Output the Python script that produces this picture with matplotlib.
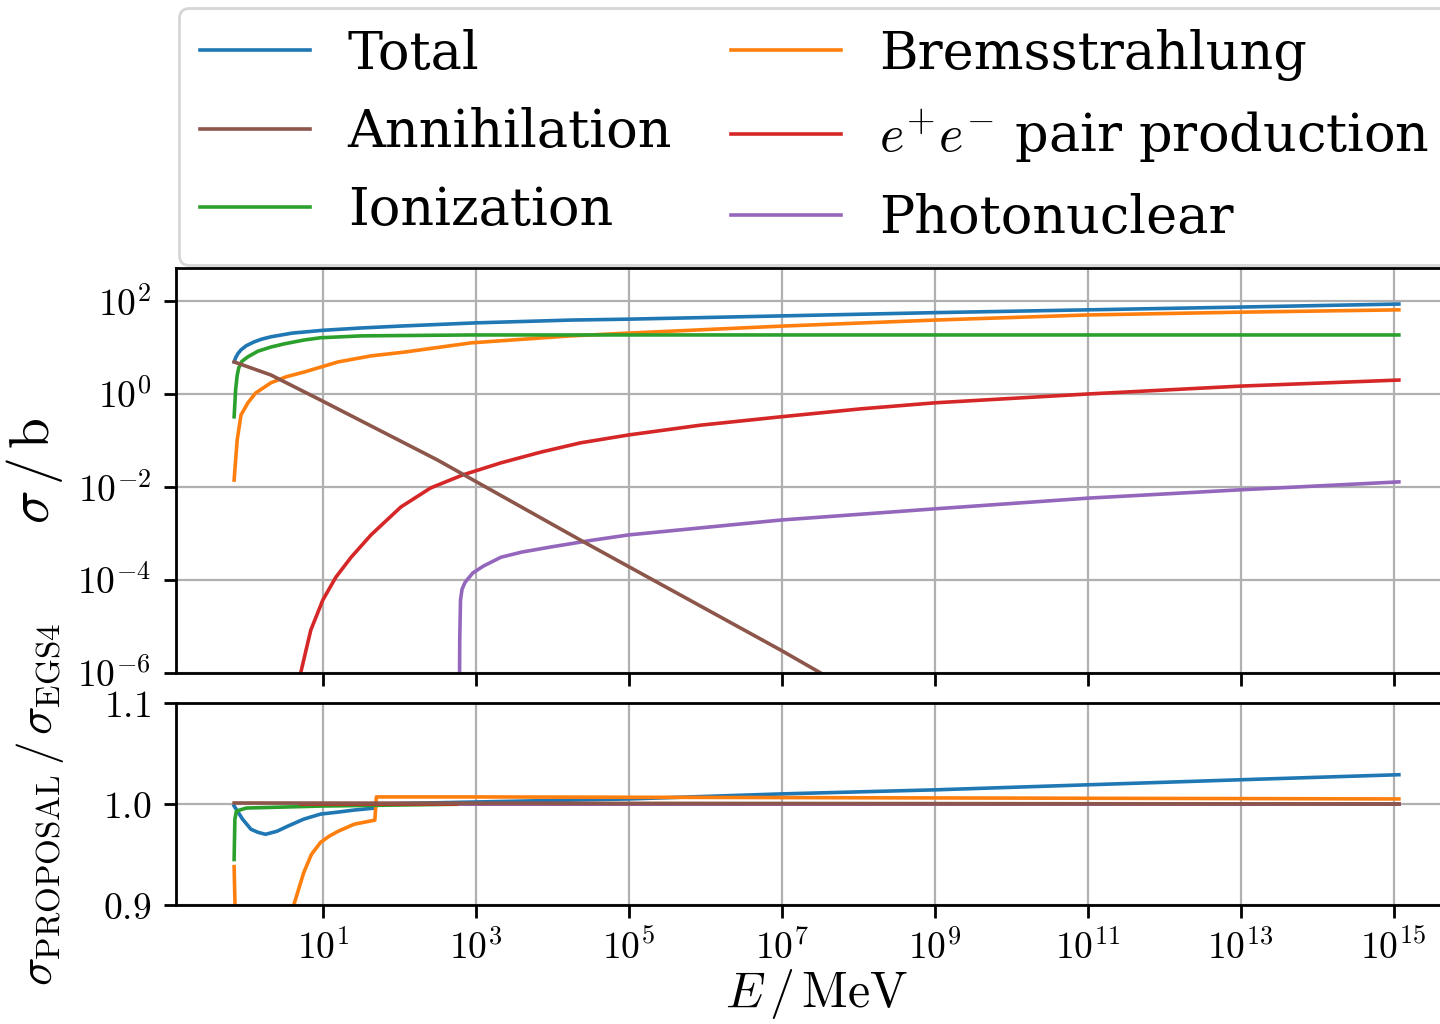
#import Libraries
import numpy as np
import matplotlib
matplotlib.use("Agg")
import matplotlib.pyplot as plt
from matplotlib.ticker import FixedLocator, FixedFormatter, NullLocator
##################################################

'''
Cross sections of the electron interactions (PROPOSAL) and the
ratio PROPOSAL / EGS4 for each process.
'''


#Data, energies and cross sections as log10 values (E in MeV, sigma in barn)
logE_total = [-0.16, -0.14, -0.11, -0.07, 0.00, 0.10, 0.20, 0.32, 0.60, 1.00, 1.50, 2.00, 3.00, 4.24, 5.00,
              7.00, 9.00, 11.00, 13.00, 15.07]
logS_total = [0.69, 0.78, 0.87, 0.95, 1.04, 1.12, 1.18, 1.23, 1.31, 1.37, 1.42, 1.46, 1.53, 1.59, 1.61,
              1.68, 1.75, 1.81, 1.87, 1.935]

logE_brems = [-0.16, -0.15, -0.12, -0.07, 0.02, 0.12, 0.32, 0.52, 0.75, 1.20, 1.63, 2.06, 2.94, 4.24, 5.00,
              7.00, 9.00, 11.00, 13.00, 15.07]
logS_brems = [-1.85, -1.63, -0.99, -0.45, -0.19, 0.02, 0.24, 0.37, 0.47, 0.69, 0.82, 0.90, 1.10, 1.25, 1.31,
              1.46, 1.59, 1.70, 1.76, 1.81]

logE_ioniz = [-0.16, -0.14, -0.12, -0.10, -0.06, 0.02, 0.15, 0.32, 0.50, 0.75, 0.97, 1.50, 2.93, 15.07]
logS_ioniz = [-0.49, 0.10, 0.40, 0.56, 0.70, 0.80, 0.92, 1.01, 1.08, 1.16, 1.21, 1.25, 1.27, 1.27]

logE_pair = [0.68, 0.71, 0.78, 0.843, 1.00, 1.17, 1.37, 1.63, 2.02, 2.41, 2.83, 3.33, 3.85, 4.37, 5.00,
             5.94, 6.99, 8.03, 9.00, 11.00, 13.00, 15.07]
logS_pair = [-7.00, -6.00, -5.51, -5.075, -4.43, -3.94, -3.51, -3.03, -2.43, -2.02, -1.74, -1.48, -1.25, -1.05, -0.88,
             -0.67, -0.49, -0.32, -0.19, 0.00, 0.17, 0.30]

logE_photo = [2.785, 2.79, 2.80, 2.82, 2.86, 2.96, 3.10, 3.33, 3.60, 3.98, 4.50, 5.00, 6.99, 9.00, 11.00, 13.00, 15.07]
logS_photo = [-7.00, -5.29, -4.43, -4.20, -4.05, -3.85, -3.70, -3.51, -3.40, -3.29, -3.15, -3.03, -2.71, -2.47,
              -2.24, -2.06, -1.89]

logE_annih = [-0.16, 0.32, 0.97, 2.50, 4.41, 6.99, 7.51, 8.00]
logS_annih = [0.69, 0.41, -0.13, -1.42, -3.18, -5.51, -6.00, -6.45]

#Ratios PROPOSAL / EGS4
logE_r_total = [-0.16, -0.10, -0.05, 0.06, 0.15, 0.25, 0.40, 0.54, 0.75, 0.97, 1.20, 1.41, 1.68, 1.71, 3.00,
                5.00, 7.00, 9.00, 11.00, 13.00, 15.07]
ratio_total = [0.998, 0.991, 0.985, 0.975, 0.972, 0.970, 0.973, 0.978, 0.985, 0.990, 0.992, 0.994, 0.996, 1.000, 1.002,
               1.005, 1.010, 1.014, 1.019, 1.024, 1.029]

logE_r_brems = [-0.16, -0.15, -0.14, 0.20, 0.50, 0.62, 0.75, 0.85, 0.97, 1.08, 1.20, 1.41, 1.68, 1.70, 3.00, 15.07]
ratio_brems = [0.938, 0.905, 0.850, 0.750, 0.850, 0.900, 0.932, 0.950, 0.962, 0.968, 0.973, 0.980, 0.984, 1.007,
               1.007, 1.005]

logE_r_ioniz = [-0.16, -0.15, -0.13, 0.00, 0.50, 1.00, 2.00, 3.00, 15.07]
ratio_ioniz = [0.945, 0.985, 0.993, 0.996, 0.997, 0.998, 0.999, 1.000, 1.000]

logE_r_pair = [0.71, 15.07]
ratio_pair = [1.000, 1.000]

logE_r_photo = [2.79, 15.07]
ratio_photo = [1.000, 1.000]

logE_r_annih = [-0.16, 15.07]
ratio_annih = [1.001, 1.000]

names = ['Total', 'Bremsstrahlung', 'Ionization', r'$e^{+}e^{-}$ pair production', 'Photonuclear', 'Annihilation']
colors = ['C0', 'C1', 'C2', 'C3', 'C4', 'C5']

#Tick positions (log10) and labels
x_exps = [1, 3, 5, 7, 9, 11, 13, 15]
y_exps = [-6, -4, -2, 0, 2]
ratio_ticks = [0.9, 1.0, 1.1]
ratio_labels = [r'$0.9$', r'$1.0$', r'$1.1$']
##################################################


#Style
plt.rcParams['font.family'] = 'serif'
plt.rcParams['font.serif'] = ['DejaVu Serif']
plt.rcParams['mathtext.fontset'] = 'cm'
plt.rcParams['axes.linewidth'] = 2.0
plt.rcParams['xtick.major.size'] = 9
plt.rcParams['ytick.major.size'] = 9
plt.rcParams['xtick.major.width'] = 2.0
plt.rcParams['ytick.major.width'] = 2.0
plt.rcParams['xtick.major.pad'] = 9
plt.rcParams['ytick.major.pad'] = 9
plt.rcParams['xtick.labelsize'] = 27
plt.rcParams['ytick.labelsize'] = 27
plt.rcParams['axes.labelsize'] = 36
plt.rcParams['grid.linewidth'] = 1.6
plt.rcParams['lines.linewidth'] = 2.6
##################################################


#Figure with cross section panel on top and ratio panel below
fig = plt.figure(figsize=(14.4, 10.24), dpi=100)
W, H = 1440.0, 1024.0
ax1 = fig.add_axes([176 / W, 1 - 673 / H, 1281 / W, 405 / H])
ax2 = fig.add_axes([176 / W, 1 - 905 / H, 1281 / W, 202 / H], sharex=ax1)

top = [(logE_total, logS_total), (logE_brems, logS_brems), (logE_ioniz, logS_ioniz),
       (logE_pair, logS_pair), (logE_photo, logS_photo), (logE_annih, logS_annih)]
bottom = [(logE_r_total, ratio_total), (logE_r_brems, ratio_brems), (logE_r_ioniz, ratio_ioniz),
          (logE_r_pair, ratio_pair), (logE_r_photo, ratio_photo), (logE_r_annih, ratio_annih)]

handles = []
for (lx, ly), name, col in zip(top, names, colors):
    h, = ax1.plot(10.0 ** np.array(lx), 10.0 ** np.array(ly), color=col, label=name)
    handles.append(h)

for (lx, r), col in zip(bottom, colors):
    ax2.plot(10.0 ** np.array(lx), r, color=col)
##################################################


#Axes, ticks and grid
ax1.set_xscale('log')
ax1.set_yscale('log')
ax1.set_xlim(10 ** -0.92, 10 ** 15.83)
ax1.set_ylim(1e-6, 10 ** 2.71)
ax1.xaxis.set_major_locator(FixedLocator([10.0 ** e for e in x_exps]))
ax1.yaxis.set_major_locator(FixedLocator([10.0 ** e for e in y_exps]))
ax1.yaxis.set_major_formatter(FixedFormatter([r'$10^{%d}$' % e for e in y_exps]))
ax1.xaxis.set_minor_locator(NullLocator())
ax1.yaxis.set_minor_locator(NullLocator())
ax1.tick_params(labelbottom=False)
ax1.grid(True)
ax1.set_ylabel(r'$\sigma \,/\, \mathrm{b}$', fontsize=40)
ax1.yaxis.set_label_coords(-0.087, 0.5)

ax2.set_ylim(0.9, 1.1)
ax2.yaxis.set_major_locator(FixedLocator(ratio_ticks))
ax2.yaxis.set_major_formatter(FixedFormatter(ratio_labels))
ax2.xaxis.set_major_formatter(FixedFormatter([r'$10^{%d}$' % e for e in x_exps]))
ax2.xaxis.set_minor_locator(NullLocator())
ax2.grid(True)
ax2.set_xlabel(r'$E \,/\, \mathrm{MeV}$', labelpad=0)
ax2.set_ylabel(r'$\sigma_{\mathrm{PROPOSAL}} \,/\, \sigma_{\mathrm{EGS4}}$', fontsize=34)
ax2.yaxis.set_label_coords(-0.086, 0.5)
##################################################


#Legend above the top panel
order = [0, 5, 2, 1, 3, 4]
leg = ax1.legend([handles[i] for i in order], [names[i] for i in order],
                 loc='lower left', bbox_to_anchor=(0, 1), ncol=2, fontsize=37.8,
                 borderaxespad=0.05, handlelength=2.1, handletextpad=0.72,
                 columnspacing=1.12, labelspacing=0.52, borderpad=0.4,
                 edgecolor='0.8', framealpha=0.8)
leg.get_frame().set_linewidth(2.0)

fig.savefig('out.png', dpi=100)
##################################################
